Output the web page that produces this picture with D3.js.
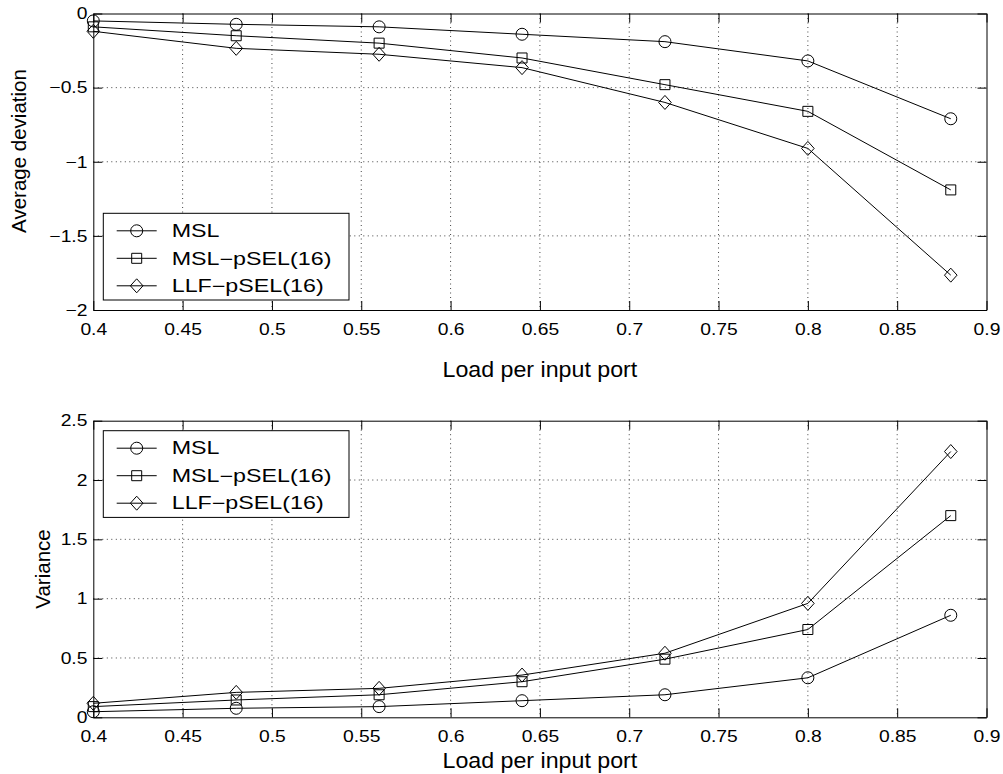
<!DOCTYPE html>
<html>
<head>
<meta charset="utf-8">
<script src="https://cdn.jsdelivr.net/npm/d3@7"></script>
<style>
  body { margin: 0; background: #fff; }
  text { font-family: "Liberation Sans", Arial, sans-serif; fill: #000; }
</style>
</head>
<body>
<div id="chart"></div>
<script>
// data
var loads = [0.4, 0.48, 0.56, 0.64, 0.72, 0.8, 0.88];
var seriesNames = ["MSL", "MSL\u2212pSEL(16)", "LLF\u2212pSEL(16)"];
var markers = ["circle", "square", "diamond"];

var avgMSL   = [-0.05, -0.073, -0.09, -0.14, -0.19, -0.32, -0.71];
var avgMSLp  = [-0.09, -0.15, -0.2, -0.3, -0.48, -0.66, -1.19];
var avgLLF   = [-0.12, -0.235, -0.275, -0.365, -0.6, -0.91, -1.765];

var varMSL   = [0.047, 0.076, 0.09, 0.14, 0.19, 0.333, 0.86];
var varMSLp  = [0.09, 0.146, 0.19, 0.3, 0.49, 0.74, 1.70];
var varLLF   = [0.118, 0.21, 0.244, 0.356, 0.54, 0.96, 2.24];

var xTicks = [0.4, 0.45, 0.5, 0.55, 0.6, 0.65, 0.7, 0.75, 0.8, 0.85, 0.9];
var avgTicks = [0, -0.5, -1, -1.5, -2];
var varTicks = [0, 0.5, 1, 1.5, 2, 2.5];

var svgWidth = 1003;
var svgHeight = 774;

var svg = d3.select("#chart")
  .append("svg")
  .attr("width", svgWidth)
  .attr("height", svgHeight);

var left = 93.3, right = 986.5;
var tickFont = 16.5, tickStretch = 1.17;

function drawPanel(opt) {
  var x = d3.scaleLinear().domain([0.4, 0.9]).range([left, right]);
  var y = d3.scaleLinear().domain(opt.yDomain).range([opt.bottom, opt.top]);
  var g = svg.append("g");

  // dotted grid
  var grid = g.append("g").attr("stroke", "#444").attr("stroke-width", 1)
    .attr("stroke-dasharray", "1,3.5");
  grid.selectAll("line.vx")
    .data(xTicks.slice(1, -1))
    .enter().append("line")
    .attr("x1", d => x(d)).attr("x2", d => x(d))
    .attr("y1", opt.top).attr("y2", opt.bottom);
  grid.selectAll("line.hy")
    .data(opt.yTicks.filter(d => d !== opt.yDomain[0] && d !== opt.yDomain[1]))
    .enter().append("line")
    .attr("x1", left).attr("x2", right)
    .attr("y1", d => y(d)).attr("y2", d => y(d));

  // axes with inward ticks
  var bottomAxis = d3.axisBottom(x).tickValues(xTicks).tickFormat(d3.format("~g"))
    .tickSizeInner(-9).tickSizeOuter(0).tickPadding(13.3);
  var leftAxis = d3.axisLeft(y).tickValues(opt.yTicks).tickFormat(d3.format("~g"))
    .tickSizeInner(-9).tickSizeOuter(0).tickPadding(5);
  var topAxis = d3.axisTop(x).tickValues(xTicks).tickFormat("")
    .tickSizeInner(-9).tickSizeOuter(0);
  var rightAxis = d3.axisRight(y).tickValues(opt.yTicks).tickFormat("")
    .tickSizeInner(-9).tickSizeOuter(0);

  var axes = [
    g.append("g").attr("transform", `translate(0, ${opt.bottom})`).call(bottomAxis),
    g.append("g").attr("transform", `translate(${left}, 0)`).call(leftAxis),
    g.append("g").attr("transform", `translate(0, ${opt.top})`).call(topAxis),
    g.append("g").attr("transform", `translate(${right}, 0)`).call(rightAxis)
  ];
  axes.forEach(function(a) {
    a.selectAll("path, line").attr("stroke", "#000").attr("stroke-width", 1);
    a.selectAll("text")
      .attr("font-size", tickFont)
      .attr("font-family", "Liberation Sans, Arial, sans-serif")
      .attr("fill", "#000")
      .attr("transform", `scale(${tickStretch},1)`);
  });

  // series
  opt.series.forEach(function(vals, i) {
    var pts = loads.map((l, k) => [l, vals[k]]);
    g.append("path")
      .datum(pts)
      .attr("fill", "none")
      .attr("stroke", "#000")
      .attr("stroke-width", 1)
      .attr("d", d3.line().x(d => x(d[0])).y(d => y(d[1])));
    g.selectAll("g.m" + i)
      .data(pts)
      .enter()
      .append("g")
      .attr("transform", d => `translate(${x(d[0])},${y(d[1])})`)
      .each(function() { drawMarker(d3.select(this), markers[i]); });
  });

  // legend
  var lg = g.append("g").attr("transform", `translate(103.3, ${opt.legendTop})`);
  lg.append("rect")
    .attr("width", 245.7).attr("height", 86.7)
    .attr("fill", "#fff").attr("stroke", "#000").attr("stroke-width", 1);
  seriesNames.forEach(function(name, i) {
    var ry = 17.5 + i * 27.5;
    lg.append("line")
      .attr("x1", 13.4).attr("x2", 53.4)
      .attr("y1", ry).attr("y2", ry)
      .attr("stroke", "#000").attr("stroke-width", 1);
    var mg = lg.append("g").attr("transform", `translate(33.4,${ry})`);
    drawMarker(mg, markers[i]);
    lg.append("text")
      .attr("transform", `translate(68.4,${ry + 6.2}) scale(1.33,1)`)
      .attr("font-size", 17.5)
      .text(name);
  });

  // axis labels
  svg.append("text")
    .attr("transform", `translate(${(left + right) / 2},${opt.xLabelY}) scale(1.08,1)`)
    .attr("text-anchor", "middle")
    .attr("font-size", 21.5)
    .text("Load per input port");
  svg.append("text")
    .attr("transform", `translate(${opt.yLabelX},${opt.yLabelCy}) rotate(-90)`)
    .attr("text-anchor", "middle")
    .attr("font-size", 20.5)
    .text(opt.yLabel);
}

function drawMarker(sel, type) {
  var s = sel.append(type === "circle" ? "circle" : "path")
    .attr("fill", "none").attr("stroke", "#000").attr("stroke-width", 1);
  if (type === "circle") s.attr("r", 6);
  else if (type === "square") s.attr("d", "M-5,-5H5V5H-5Z");
  else s.attr("d", "M0,-7L6.3,0L0,7L-6.3,0Z");
}

drawPanel({
  top: 13.5, bottom: 310, yDomain: [-2, 0], yTicks: avgTicks,
  series: [avgMSL, avgMSLp, avgLLF],
  legendTop: 213.3, xLabelY: 377.3,
  yLabel: "Average deviation", yLabelX: 26, yLabelCy: 151
});

drawPanel({
  top: 420.7, bottom: 717.3, yDomain: [0, 2.5], yTicks: varTicks,
  series: [varMSL, varMSLp, varLLF],
  legendTop: 430.7, xLabelY: 768.3,
  yLabel: "Variance", yLabelX: 50, yLabelCy: 569
});
</script>
</body>
</html>
